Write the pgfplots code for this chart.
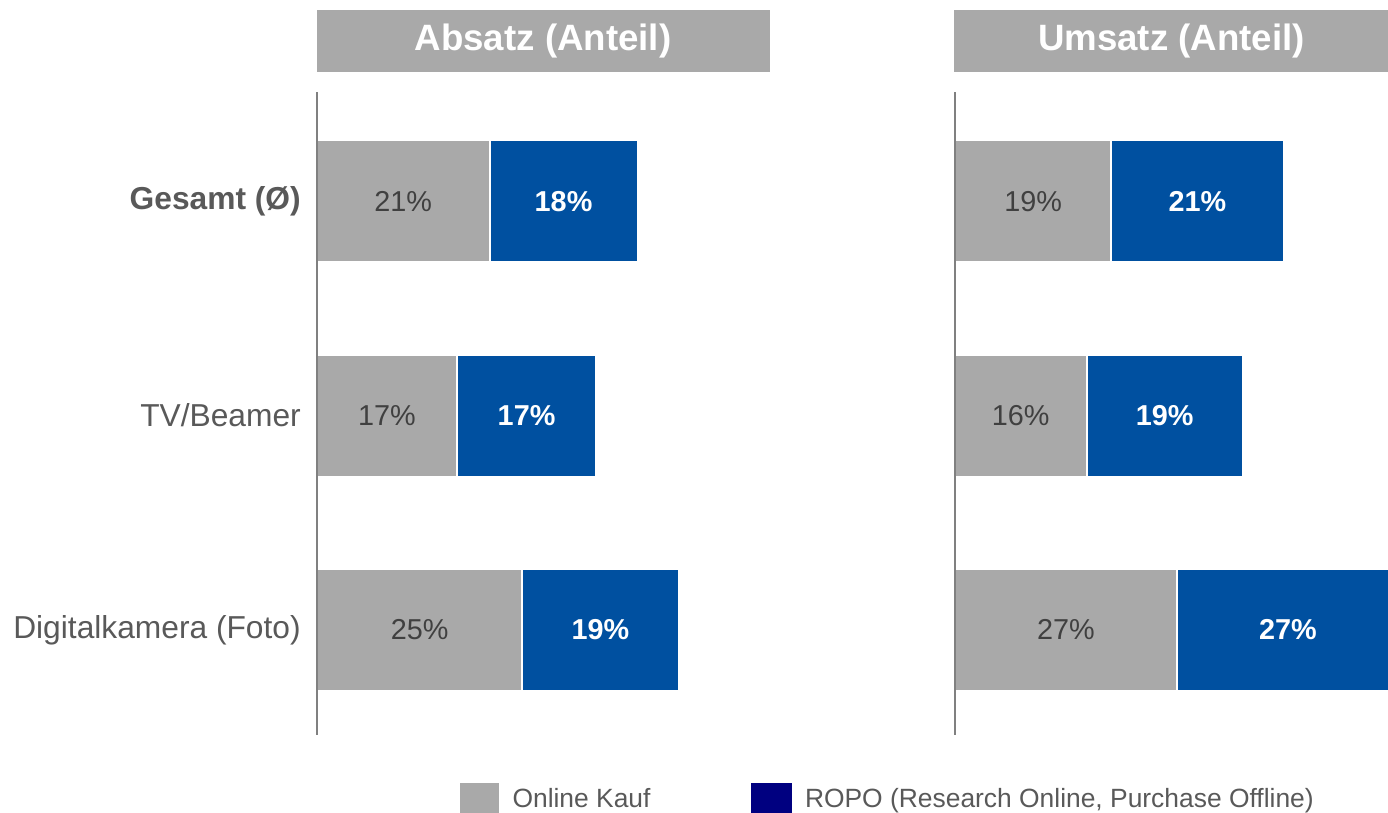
\documentclass[border=0pt]{standalone}
\usepackage{pgfplots}
\usepackage{pgfplotstable}
\pgfplotsset{compat=1.18}
\usepackage{fontspec}
\setmainfont{Liberation Sans}
\definecolor{bargray}{HTML}{A9A9A9}
\definecolor{barblue}{HTML}{0050A0}
\definecolor{legnavy}{HTML}{000080}
\definecolor{titlegray}{HTML}{A9A9A9}
\definecolor{axisgray}{HTML}{808080}
\definecolor{labelgray}{HTML}{595959}
\definecolor{valgray}{HTML}{404040}

\pgfplotstableread{
y online ropo
0 25 19
1 17 17
2 21 18
}\absatz
\pgfplotstableread{
y online ropo
0 27 27
1 16 19
2 19 21
}\umsatz

\pgfplotsset{
  panel/.style={
    scale only axis,
    axis on top,
    bar width=91.5pt,
    height=482.25pt,
    xmin=0, ymin=-0.49, ymax=2.51,
    axis x line=none,
    axis y line*=left,
    y axis line style={draw=axisgray, line width=1.5pt},
    ytick={0,1,2},
    major tick length=0pt,
    yticklabel style={font=\fontsize{23.8}{26}\selectfont, text=labelgray, inner sep=0pt, xshift=-12pt},
    title style={at={(axis description cs:0.5,1)}, anchor=south, yshift=9pt,
      fill=titlegray, text=white, font=\bfseries\fontsize{27.5}{30}\selectfont,
      minimum height=46.5pt, inner sep=0pt},
  },
  onl/.style={xbar, fill=bargray, draw=white, line width=1.5pt},
  ropo/.style={xbar, fill=barblue, draw=white, line width=1.5pt},
  lab/.style={draw=none, no markers, point meta=explicit symbolic,
    nodes near coords={\pgfplotspointmeta\%},
    every node near coord/.style={anchor=center, inner sep=0pt, #1}},
}

\begin{document}
\begin{tikzpicture}[x=0.75pt, y=0.75pt]
\begin{axis}[panel,
  at={(237.75pt,58.5pt)}, anchor=south west,
  width=339pt, xmax=55,
  yticklabels={Digitalkamera (Foto), TV/Beamer, \textbf{Gesamt (Ø)}},
  title={Absatz (Anteil)},
  title style={minimum width=339.75pt},
  legend style={at={(axis description cs:0.3164,-0.0991)}, anchor=west,
    draw=none, fill=none, inner sep=0pt, outer sep=0pt,
    legend columns=2,
    nodes={inner sep=0pt, text=labelgray, font=\fontsize{19.8}{22}\selectfont},
    /tikz/every odd column/.style={column sep=10.5pt},
    /tikz/every even column/.style={column sep=75pt}},
  legend cell align=left,
]
\addlegendimage{legend image code/.code={\fill[bargray] (0pt,-11.25pt) rectangle (28.5pt,11.25pt);}}
\addlegendentry{Online Kauf}
\addlegendimage{legend image code/.code={\fill[legnavy] (0pt,-11.25pt) rectangle (30pt,11.25pt);}}
\addlegendentry{ROPO (Research Online, Purchase Offline)}
\addplot[ropo] table[x expr=\thisrow{online}+\thisrow{ropo}, y=y] {\absatz};
\addplot[onl] table[x=online, y=y] {\absatz};
\addplot[lab={text=valgray, font=\fontsize{21.6}{24}\selectfont}]
  table[x expr=\thisrow{online}/2, y=y, meta=online] {\absatz};
\addplot[lab={text=white, font=\bfseries\fontsize{21.6}{24}\selectfont}]
  table[x expr=\thisrow{online}+\thisrow{ropo}/2, y=y, meta=ropo] {\absatz};
\end{axis}
\begin{axis}[panel,
  at={(716.25pt,58.5pt)}, anchor=south west,
  width=324.75pt, xmax=52.68,
  yticklabels={,,},
  title={Umsatz (Anteil)},
  title style={minimum width=326.25pt},
]
\addplot[ropo] table[x expr=\thisrow{online}+\thisrow{ropo}, y=y] {\umsatz};
\addplot[onl] table[x=online, y=y] {\umsatz};
\addplot[lab={text=valgray, font=\fontsize{21.6}{24}\selectfont}]
  table[x expr=\thisrow{online}/2, y=y, meta=online] {\umsatz};
\addplot[lab={text=white, font=\bfseries\fontsize{21.6}{24}\selectfont}]
  table[x expr=\thisrow{online}+\thisrow{ropo}/2, y=y, meta=ropo] {\umsatz};
\end{axis}
\pgfresetboundingbox
\path[use as bounding box] (0,0) rectangle (1388,813);
\end{tikzpicture}
\end{document}
